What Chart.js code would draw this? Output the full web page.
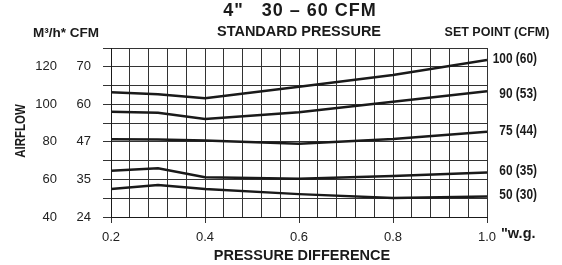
<!DOCTYPE html>
<html>
<head>
<meta charset="utf-8">
<script src="https://cdn.jsdelivr.net/npm/chart.js@4.4.1/dist/chart.umd.min.js"></script>
<style>
  html, body { margin: 0; padding: 0; background: #fff; }
  #wrap { width: 562px; height: 265px; }
</style>
</head>
<body>
<div id="wrap"><canvas id="myChart" width="562" height="265"></canvas></div>
<script>
'use strict';

// pressure difference ("w.g.)
const pressure = [0.2, 0.3, 0.4, 0.6, 0.8, 1.0];

// airflow, in CFM
const flow100 = [63.2, 62.7, 61.6, 64.7, 67.8, 71.8];
const flow90  = [57.4, 57.1, 54.9, 57.3, 60.7, 63.5];
const flow75  = [47.9, 47.8, 47.5, 46.4, 48.0, 50.5];
const flow60  = [37.8, 38.6, 35.7, 35.2, 36.1, 37.2];
const flow50  = [32.2, 33.4, 32.2, 30.7, 29.6, 30.0];

const setPoints = ['100 (60)', '90 (53)', '75 (44)', '60 (35)', '50 (30)'];

// the airflow axis is not linear: labels sit on every other grid row
const cfmTicks = [24, 35, 47, 60, 70];
const m3hTicks = [40, 60, 80, 100, 120];

const SANS = "'Liberation Sans', Arial, sans-serif";
const CONDENSE = 0.82;                 // fake a condensed face
const labelNudge = [-1, 3, -1, -2, -2]; // small vertical shifts of the set point labels

// CFM -> grid row (0..9), piecewise between labelled rows
function toRow(cfm) {
  let i = 0;
  while (i < cfmTicks.length - 2 && cfm > cfmTicks[i + 1]) i++;
  const a = cfmTicks[i], b = cfmTicks[i + 1];
  return i * 2 + (cfm - a) / (b - a) * 2;
}

function rowLabel(list) {
  return v => (v % 2 === 0 && v / 2 < list.length) ? String(list[v / 2]) : '';
}

const isMajor = v => Math.abs(v * 5 - Math.round(v * 5)) < 1e-6;

const series = [flow100, flow90, flow75, flow60, flow50].map((arr, i) => ({
  label: setPoints[i],
  data: arr.map((f, j) => ({ x: pressure[j], y: toRow(f) })),
  borderColor: '#1a1a1a',
  borderWidth: 2.5,
  pointRadius: 0,
  tension: 0,
  yAxisID: 'y'
}));

function narrowText(c, txt, x, y, rot) {
  c.save();
  c.translate(x, y);
  if (rot) c.rotate(rot);
  c.scale(CONDENSE, 1);
  c.fillText(txt, 0, 0);
  c.restore();
}

const textPlugin = {
  id: 'chartTexts',
  afterDraw: (chart) => {
    const c = chart.ctx;
    const y = chart.scales.y;
    c.save();
    c.fillStyle = '#1a1a1a';
    c.textBaseline = 'middle';

    c.textAlign = 'center';
    c.font = 'bold 18px ' + SANS;
    c.letterSpacing = '1px';
    c.fillText('4"   30 \u2013 60 CFM', 300, 11);
    c.letterSpacing = '0px';

    c.font = 'bold 14.5px ' + SANS;
    c.fillText('STANDARD PRESSURE', 299, 32);
    c.font = 'bold 13.5px ' + SANS;
    c.fillText('M\u00b3/h* CFM', 66, 33);
    c.font = 'bold 12.5px ' + SANS;
    c.fillText('SET POINT (CFM)', 497, 33);
    c.font = 'bold 14.5px ' + SANS;
    c.fillText('PRESSURE DIFFERENCE', 302, 256);

    c.textAlign = 'left';
    c.font = 'bold 14.5px ' + SANS;
    c.fillText('"w.g.', 501, 234);

    // set point labels next to the line ends
    c.textAlign = 'right';
    c.font = 'bold 14.5px ' + SANS;
    chart.data.datasets.forEach((ds, i) => {
      const last = ds.data[ds.data.length - 1];
      narrowText(c, ds.label, 537, y.getPixelForValue(last.y) + labelNudge[i]);
    });

    c.textAlign = 'center';
    c.font = 'bold 14px ' + SANS;
    narrowText(c, 'AIRFLOW', 21, 131, -Math.PI / 2);
    c.restore();
  }
};

const config = {
  type: 'line',
  data: { datasets: series },
  options: {
    responsive: false,
    animation: false,
    devicePixelRatio: 1,
    layout: { padding: { left: 0, right: 75, top: 48, bottom: 0 } },
    plugins: { legend: { display: false }, tooltip: { enabled: false } },
    scales: {
      x: {
        type: 'linear',
        min: 0.2,
        max: 1.0,
        afterFit: s => { s.height = 48; },
        border: { color: '#1a1a1a', width: 1 },
        grid: {
          color: '#333',
          lineWidth: 1,
          tickLength: 6,
          tickColor: ctx => isMajor(ctx.tick.value) ? '#333' : 'rgba(0,0,0,0)'
        },
        ticks: {
          stepSize: 0.04,
          autoSkip: false,
          maxRotation: 0,
          padding: 7,
          color: '#222',
          font: { family: SANS, size: 13 },
          callback: v => isMajor(v) ? v.toFixed(1) : ''
        }
      },
      y: {
        type: 'linear',
        position: 'left',
        weight: 0,
        min: 0,
        max: 9,
        afterFit: s => { s.width = 49; },
        border: { color: '#1a1a1a', width: 1 },
        grid: { color: '#333', lineWidth: 1, tickLength: 8 },
        ticks: {
          stepSize: 1,
          autoSkip: false,
          padding: 12,
          color: '#222',
          font: { family: SANS, size: 13 },
          callback: rowLabel(cfmTicks)
        }
      },
      y2: {
        type: 'linear',
        position: 'left',
        weight: 1,
        min: 0,
        max: 9,
        afterFit: s => { s.width = 62; },
        border: { display: false },
        grid: { display: false, drawTicks: false },
        ticks: {
          stepSize: 1,
          autoSkip: false,
          padding: 5,
          color: '#222',
          font: { family: SANS, size: 13 },
          callback: rowLabel(m3hTicks)
        }
      }
    }
  },
  plugins: [textPlugin]
};

const myChart = new Chart(document.getElementById('myChart'), config);
</script>
</body>
</html>
